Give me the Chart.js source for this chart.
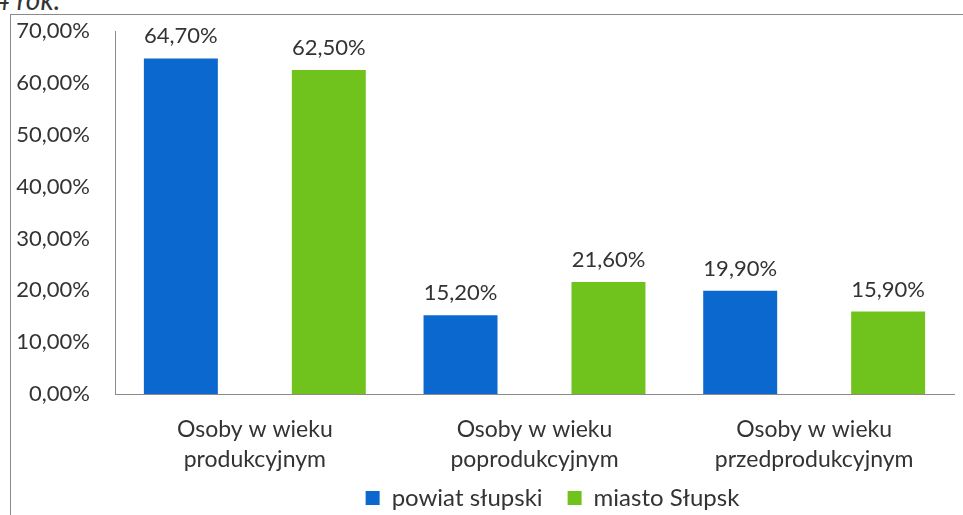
<!DOCTYPE html>
<html>
<head>
<meta charset="utf-8">
<script src="https://cdn.jsdelivr.net/npm/chart.js@4.4.1/dist/chart.umd.min.js"></script>
<style>
  html, body { margin: 0; padding: 0; width: 963px; height: 515px; overflow: hidden; background: #fff; }
  #naglowek { position: absolute; left: -6px; top: -18px; font: italic 400 28px Lato, sans-serif; color: #333; }
  #ramka { position: absolute; left: 10px; top: 14px; width: 1074px; height: 520px;
           border-left: 1px solid #8a8a8a; border-top: 1px solid #8a8a8a; }
  #wykres { position: absolute; left: 0; top: 0; }
</style>
</head>
<body>
<div id="naglowek">4 rok.</div>
<div id="ramka"><canvas id="wykres" width="1074" height="500"></canvas></div>
<script>
// dane wykresu
const kategorie = [
  ['Osoby w wieku', 'produkcyjnym'],
  ['Osoby w wieku', 'poprodukcyjnym'],
  ['Osoby w wieku', 'przedprodukcyjnym']
];
const powiatSlupski = [64.7, 15.2, 19.9];
const miastoSlupsk = [62.5, 21.6, 15.9];
const podzialkaY = [0, 10, 20, 30, 40, 50, 60, 70];

const procent = (v) => v.toFixed(2).replace('.', ',') + '%';
const czcionka = 'Lato, sans-serif';

// etykiety nad slupkami
const etykietyWartosci = {
  id: 'etykietyWartosci',
  afterDatasetsDraw(chart) {
    const ctx = chart.ctx;
    ctx.save();
    ctx.font = '22px ' + czcionka;
    ctx.fillStyle = '#333';
    ctx.textAlign = 'center';
    ctx.textBaseline = 'alphabetic';
    chart.data.datasets.forEach((ds, i) => {
      chart.getDatasetMeta(i).data.forEach((bar, j) => {
        ctx.fillText(procent(ds.data[j]), bar.x, bar.y - 15);
      });
    });
    ctx.restore();
  }
};

// legenda przesunieta pod srodek wykresu
const przesunLegende = {
  id: 'przesunLegende',
  afterLayout(chart) {
    const leg = chart.legend;
    leg.left += 70; leg.right += 70;
    leg.top -= 14;
  }
};

new Chart(document.getElementById('wykres'), {
  type: 'bar',
  data: {
    labels: kategorie,
    datasets: [
      { label: 'powiat słupski', data: powiatSlupski, backgroundColor: '#0b68cf' },
      { label: 'miasto Słupsk', data: miastoSlupsk, backgroundColor: '#70c31c' }
    ]
  },
  options: {
    responsive: false,
    animation: false,
    layout: { padding: { top: 16, right: 131, left: 0, bottom: 0 } },
    datasets: { bar: { categoryPercentage: 1.058, barPercentage: 0.5 } },
    plugins: {
      tooltip: { enabled: false },
      legend: {
        position: 'bottom',
        maxHeight: 40,
        labels: {
          font: { family: czcionka, size: 24 },
          color: '#333',
          boxWidth: 14,
          boxHeight: 14,
          padding: 25
        }
      }
    },
    scales: {
      x: {
        grid: { display: false, drawTicks: false },
        border: { display: true, color: '#8a8a8a' },
        ticks: {
          font: { family: czcionka, size: 23, lineHeight: 1.32 },
          color: '#333',
          padding: 20,
          maxRotation: 0
        },
        afterFit: (scale) => { scale.height = 81; }
      },
      y: {
        min: 0,
        max: 70,
        grid: { display: false, drawTicks: false },
        border: { display: true, color: '#8a8a8a' },
        afterBuildTicks: (scale) => { scale.ticks = podzialkaY.map(v => ({ value: v })); },
        ticks: {
          font: { family: czcionka, size: 22 },
          color: '#333',
          padding: 25,
          callback: (v) => procent(v)
        },
        afterFit: (scale) => { scale.width = 104; scale.paddingTop = 0; scale.paddingBottom = 0; }
      }
    }
  },
  plugins: [etykietyWartosci, przesunLegende]
});
</script>
</body>
</html>
